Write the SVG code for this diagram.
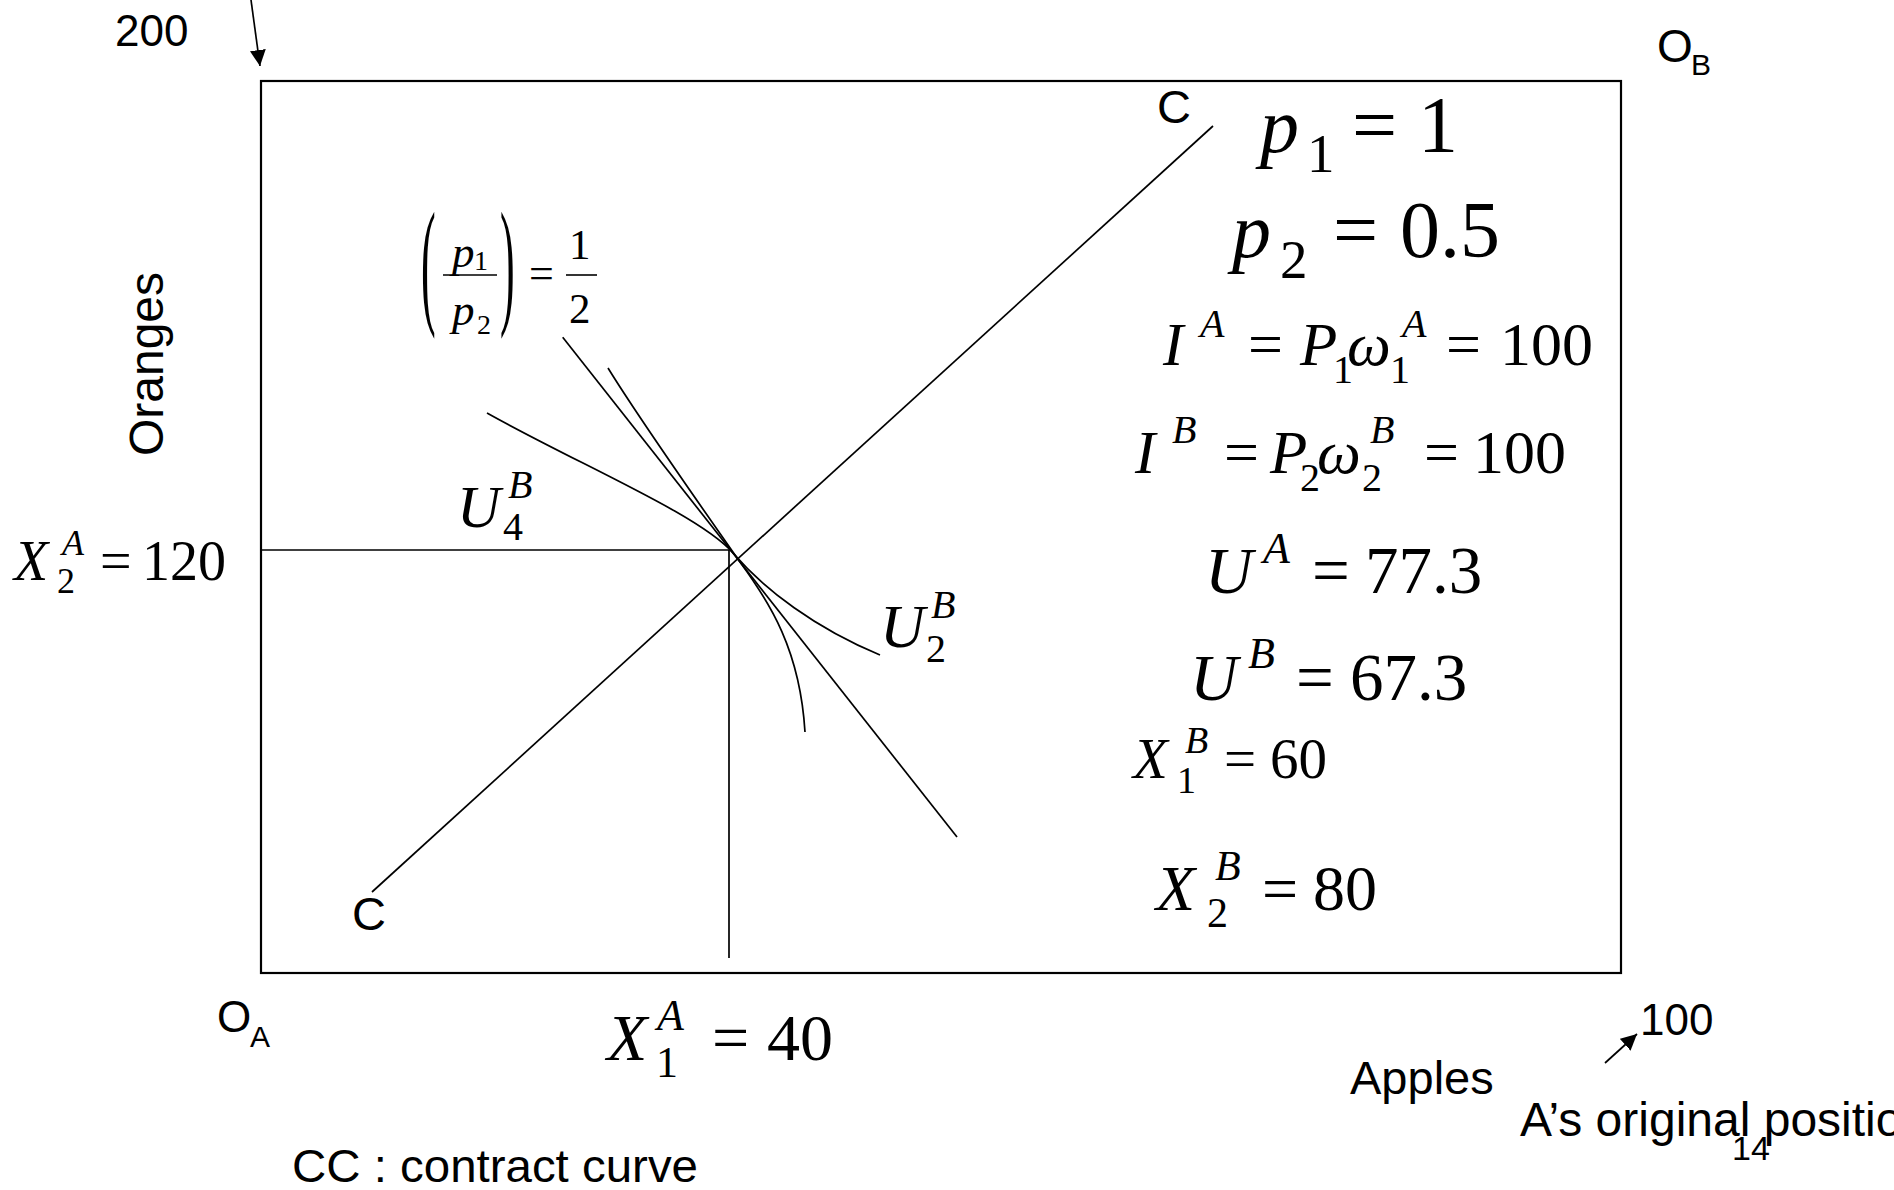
<svg xmlns="http://www.w3.org/2000/svg" width="1894" height="1190" viewBox="0 0 1894 1190">
<style>
.s{font-family:"Liberation Sans",Arial,sans-serif;fill:#000}
.m{font-family:"Liberation Serif","Times New Roman",serif;fill:#000}
.i{font-style:italic}
.ln{fill:none;stroke:#000;stroke-width:1.7}
</style>
<defs>
<marker id="ah" viewBox="0 0 16 16" refX="16" refY="8" markerWidth="16" markerHeight="16" orient="auto" markerUnits="userSpaceOnUse"><path d="M0,0 L16,8 L0,16 z" fill="#000"/></marker>
</defs>
<rect width="1894" height="1190" fill="#fff"/>

<g id="box"><rect x="261" y="81" width="1360" height="892" fill="none" stroke="#000" stroke-width="2.2"/></g>

<g id="connectors">
<line class="ln" x1="251" y1="0" x2="260" y2="66" marker-end="url(#ah)"/>
<line class="ln" x1="1605" y1="1063" x2="1637" y2="1034" marker-end="url(#ah)"/>
<line class="ln" x1="261" y1="550" x2="729" y2="550"/>
<line class="ln" x1="729" y1="550" x2="729" y2="958"/>
<line id="contract" class="ln" x1="372" y1="892" x2="1213" y2="126"/>
<line id="budget" class="ln" x1="562.7" y1="337.3" x2="957" y2="837"/>
<path id="curve-steep" class="ln" d="M608,368 C640,420 700,505 740,562 C770,603 800,650 805,732"/>
<path id="curve-flat" class="ln" d="M487,413 C580,465 700,515 733,553 C765,590 815,628 880,655"/>
</g>

<g id="label-200"><text class="s" x="115" y="46" font-size="44">200</text></g>
<g id="label-OB"><text class="s" x="1657" y="62" font-size="46">O</text><text class="s" x="1691" y="75" font-size="30">B</text></g>
<g id="label-OA"><text class="s" x="217" y="1032" font-size="44">O</text><text class="s" x="250" y="1047" font-size="30">A</text></g>
<g id="label-oranges"><text class="s" font-size="48" text-anchor="middle" transform="translate(163,364) rotate(-90)">Oranges</text></g>
<g id="label-C-top"><text class="s" x="1157" y="123" font-size="47">C</text></g>
<g id="label-C-bottom"><text class="s" x="352" y="930" font-size="47">C</text></g>
<g id="label-cc"><text class="s" x="292" y="1182" font-size="46" textLength="406" lengthAdjust="spacingAndGlyphs">CC : contract curve</text></g>
<g id="label-apples"><text class="s" x="1350" y="1094" font-size="47">Apples</text></g>
<g id="label-100"><text class="s" x="1640" y="1035" font-size="44">100</text></g>
<g id="label-orig"><text class="s" x="1520" y="1136" font-size="48">A’s original position</text></g>
<g id="label-14"><text class="s" x="1732" y="1160" font-size="34">14</text></g>

<g id="eq-ratio">
<text class="m" font-size="44" transform="translate(421,309) scale(1,3.2)">(</text>
<text class="m i" x="452" y="267" font-size="45">p</text><text class="m" x="474" y="270" font-size="28">1</text>
<line x1="443" y1="275" x2="497" y2="275" stroke="#000" stroke-width="1.6"/>
<text class="m i" x="452" y="325" font-size="45">p</text><text class="m" x="477" y="334" font-size="28">2</text>
<text class="m" font-size="44" transform="translate(500,309) scale(1,3.2)">)</text>
<text class="m" x="529" y="288" font-size="44">=</text>
<text class="m" x="569" y="259" font-size="43">1</text>
<line x1="566" y1="275" x2="597" y2="275" stroke="#000" stroke-width="1.6"/>
<text class="m" x="569" y="323" font-size="43">2</text>
</g>

<g id="eq-p1"><text class="m i" x="1260" y="152" font-size="78">p</text><text class="m" x="1307" y="172" font-size="55">1</text><text class="m" x="1352" y="152" font-size="80">=</text><text class="m" x="1418" y="152" font-size="80">1</text></g>
<g id="eq-p2"><text class="m i" x="1232" y="257" font-size="78">p</text><text class="m" x="1280" y="278" font-size="55">2</text><text class="m" x="1333" y="257" font-size="80">=</text><text class="m" x="1400" y="257" font-size="80">0.5</text></g>

<g id="eq-IA"><text class="m i" x="1163" y="365" font-size="61">I</text><text class="m i" x="1200" y="337" font-size="40">A</text><text class="m" x="1248" y="365" font-size="62">=</text><text class="m i" x="1300" y="365" font-size="61">P</text><text class="m" x="1333" y="383" font-size="40">1</text><text class="m i" x="1347" y="365" font-size="62">ω</text><text class="m" x="1390" y="383" font-size="40">1</text><text class="m i" x="1402" y="337" font-size="40">A</text><text class="m" x="1446" y="365" font-size="62">=</text><text class="m" x="1500" y="365" font-size="62">100</text></g>

<g id="eq-IB"><text class="m i" x="1135" y="473" font-size="61">I</text><text class="m i" x="1172" y="443" font-size="40">B</text><text class="m" x="1224" y="473" font-size="62">=</text><text class="m i" x="1270" y="473" font-size="61">P</text><text class="m" x="1300" y="491" font-size="40">2</text><text class="m i" x="1317" y="473" font-size="62">ω</text><text class="m" x="1362" y="491" font-size="40">2</text><text class="m i" x="1370" y="443" font-size="40">B</text><text class="m" x="1424" y="473" font-size="62">=</text><text class="m" x="1473" y="473" font-size="62">100</text></g>

<g id="eq-UA"><text class="m i" x="1205" y="593" font-size="66">U</text><text class="m i" x="1263" y="563" font-size="44">A</text><text class="m" x="1312" y="593" font-size="67">=</text><text class="m" x="1365" y="593" font-size="67">77.3</text></g>
<g id="eq-UB"><text class="m i" x="1190" y="700" font-size="66">U</text><text class="m i" x="1248" y="668" font-size="44">B</text><text class="m" x="1296" y="700" font-size="67">=</text><text class="m" x="1350" y="700" font-size="67">67.3</text></g>
<g id="eq-X1B"><text class="m i" x="1133" y="778" font-size="57">X</text><text class="m i" x="1185" y="753" font-size="38">B</text><text class="m" x="1177" y="793" font-size="38">1</text><text class="m" x="1224" y="778" font-size="57">=</text><text class="m" x="1270" y="778" font-size="57">60</text></g>
<g id="eq-X2B"><text class="m i" x="1156" y="910" font-size="64">X</text><text class="m i" x="1215" y="880" font-size="42">B</text><text class="m" x="1207" y="927" font-size="42">2</text><text class="m" x="1262" y="910" font-size="64">=</text><text class="m" x="1313" y="910" font-size="64">80</text></g>

<g id="eq-X2A"><text class="m i" x="14" y="580" font-size="56">X</text><text class="m i" x="62" y="555" font-size="36">A</text><text class="m" x="57" y="593" font-size="36">2</text><text class="m" x="100" y="580" font-size="56">=</text><text class="m" x="142" y="580" font-size="56">120</text></g>
<g id="eq-X1A"><text class="m i" x="607" y="1060" font-size="66">X</text><text class="m i" x="657" y="1030" font-size="44">A</text><text class="m" x="656" y="1077" font-size="44">1</text><text class="m" x="712" y="1060" font-size="66">=</text><text class="m" x="767" y="1060" font-size="66">40</text></g>

<g id="label-U4B"><text class="m i" x="457" y="527" font-size="60">U</text><text class="m i" x="508" y="498" font-size="40">B</text><text class="m" x="503" y="540" font-size="40">4</text></g>
<g id="label-U2B"><text class="m i" x="880" y="647" font-size="62">U</text><text class="m i" x="931" y="618" font-size="40">B</text><text class="m" x="926" y="662" font-size="40">2</text></g>
</svg>
